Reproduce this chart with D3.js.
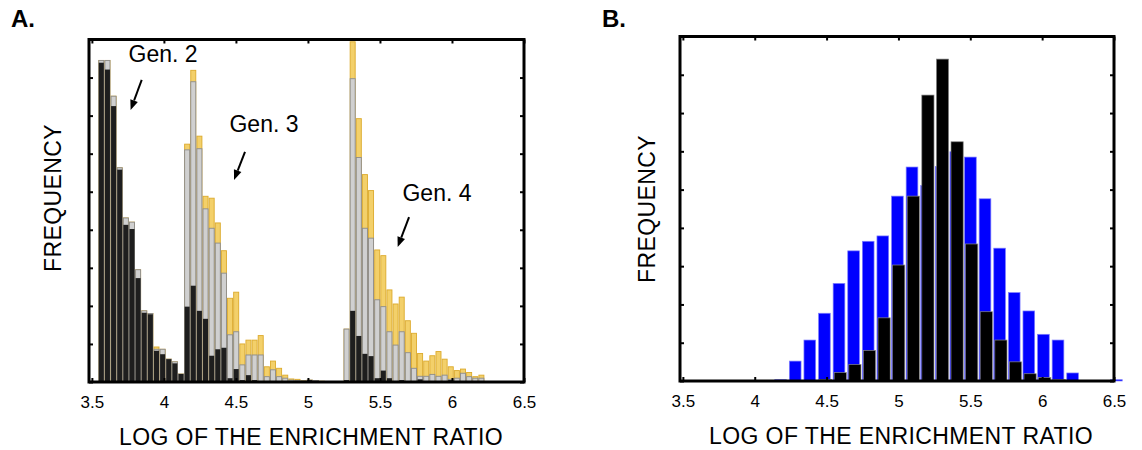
<!DOCTYPE html>
<html>
<head>
<meta charset="utf-8">
<script src="https://cdn.jsdelivr.net/npm/d3@7"></script>
<style>
  body { margin: 0; background: #fff; }
  svg { display: block; font-family: 'Liberation Sans', Arial, sans-serif; }
  .frame { fill: none; stroke: #000; stroke-width: 3; }
  .tick line { stroke: #000; stroke-width: 2; }
  .tick text { font-size: 17px; fill: #000; font-family: 'Liberation Sans', Arial, sans-serif; }
  .domain { display: none; }
  .axisTitle { font-size: 23px; letter-spacing: 0.4px; }
  .panelLabel { font-size: 24px; font-weight: bold; }
  .genLabel { font-size: 23px; }
</style>
</head>
<body>
<svg id="chart" width="1142" height="450"></svg>
<script>
// x ticks shared by both panels
var ticksX = [3.5, 4, 4.5, 5, 5.5, 6, 6.5]
var ticksY = [0, 1, 2, 3, 4, 5, 6, 7, 8, 9]

// Panel A: histogram bins (left edge of first bin, bin width)
var binStartA = 3.5446
var binWidthA = 0.04256
// overlapping layers, back to front
var goldA = [8.45, 8.45, 7.51, 5.63, 4.31, 4.2, 2.95, 1.87, 1.8, 0.92, 0.86, 0.6, 0.53, 0.21,
  6.25, 8.19, 6.46, 4.88, 4.83, 4.18, 3.45, 2.2, 2.36, 1.0, 1.1, 1.1, 1.22, 0.4, 0.55, 0.36, 0.18, 0.08, 0.07, 0.04, 0.05, 0.04, 0.02,
  0, 0, 0,
  1.39, 8.94, 6.92, 5.45, 5.03, 3.47, 3.32, 2.42, 2.05, 2.23, 1.61, 1.28, 0.75, 0.55, 0.69, 0.8, 0.6, 0.4, 0.3, 0.34, 0.25, 0.14, 0.18]
var grayA = [8.45, 8.45, 7.51, 5.63, 4.31, 4.2, 2.95, 1.87, 1.8, 0.86, 0.86, 0.6, 0.53, 0.21,
  6.1, 7.89, 6.13, 4.55, 4.04, 3.65, 2.86, 1.24, 1.32, 0.45, 0.71, 0.71, 0.71, 0.14, 0.32, 0.14, 0.1, 0.05, 0.04, 0.03, 0.05, 0.04, 0,
  0, 0, 0,
  1.39, 7.97, 5.9, 4.04, 3.78, 2.16, 1.98, 1.32, 0.97, 1.32, 0.77, 0.36, 0.15, 0.15, 0.2, 0.15, 0.18, 0.07, 0.1, 0.23, 0.14, 0.1, 0.1]
var blackA = [8.39, 8.21, 7.25, 5.58, 4.13, 4.02, 2.73, 1.82, 1.78, 0.82, 0.73, 0.6, 0.49, 0.21,
  1.98, 2.53, 1.87, 1.66, 0.69, 0.86, 0.9, 0.1, 0.34, 0.05, 0.18, 0.05, 0.02, 0, 0, 0, 0, 0, 0, 0, 0.05, 0, 0,
  0, 0, 0,
  0.05, 1.87, 1.21, 0.74, 0.68, 0.1, 0.3, 0.1, 0, 0.05, 0, 0, 0.07, 0, 0, 0, 0, 0.05, 0, 0, 0, 0, 0]

// Gen labels: text, label position, arrow start, arrow end (data units)
var genLabels = ['Gen. 2', 'Gen. 3', 'Gen. 4']
var genLabelPos = [[3.994, 8.41], [4.695, 6.57], [5.896, 4.76]]
var genArrowFrom = [[3.846, 7.94], [4.563, 6.05], [5.702, 4.33]]
var genArrowTo = [[3.769, 7.15], [4.487, 5.31], [5.623, 3.55]]

// Panel B: bin centers start and step
var binStartB = 4.18
var binWidthB = 0.1016
var blueB = [0.035, 0.52, 1.07, 1.77, 2.55, 3.4, 3.65, 3.79, 4.83, 5.59, 5.11, 5.6, 5.99, 5.85, 4.76, 3.47, 2.31, 1.83, 1.22, 1.07, 0.21, 0, 0, 0.035]
var blackB = [0, 0, 0, 0.04, 0.22, 0.43, 0.8, 1.65, 3.03, 4.83, 7.47, 8.41, 6.25, 3.58, 1.81, 1.07, 0.5, 0.19, 0.09, 0.035, 0, 0, 0, 0]

var svg = d3.select('#chart')

var xA = d3.scaleLinear().domain([3.48, 6.5]).range([89, 524])
var yA = d3.scaleLinear().domain([0, 9]).range([382, 39.5])
var xB = d3.scaleLinear().domain([3.48, 6.5]).range([680, 1114])
var yB = d3.scaleLinear().domain([0, 9]).range([381, 36.5])

// Draw the boxed axes with inward ticks
var _drawFrame = function(x, y) {
  var g = svg.append('g')
  var x0 = x.range()[0], x1 = x.range()[1]
  var y0 = y.range()[0], y1 = y.range()[1]

  g.append('g').attr('transform', 'translate(0 ' + y0 + ')')
    .call(d3.axisBottom(x).tickValues(ticksX).tickSize(-4).tickPadding(14)
      .tickFormat(function(d) { return d }))
  g.append('g').attr('transform', 'translate(0 ' + y1 + ')')
    .call(d3.axisTop(x).tickValues(ticksX).tickSize(-4).tickFormat(''))
  g.append('g').attr('transform', 'translate(' + x0 + ' 0)')
    .call(d3.axisLeft(y).tickValues(ticksY).tickSize(-4).tickFormat(''))
  g.append('g').attr('transform', 'translate(' + x1 + ' 0)')
    .call(d3.axisRight(y).tickValues(ticksY).tickSize(-4).tickFormat(''))

  g.append('rect')
    .attr('class', 'frame')
    .attr('x', x0).attr('y', y1)
    .attr('width', x1 - x0).attr('height', y0 - y1)
}

// Panel A bars
var barWA = xA(binWidthA) - xA(0) - 1.1
var _drawLayerA = function(values, fill, stroke) {
  svg.append('g').selectAll('rect')
    .data(values.map(function(v, i) { return { v: v, i: i } }).filter(function(d) { return d.v > 0 }))
    .enter().append('rect')
    .attr('x', function(d) { return xA(binStartA + d.i * binWidthA) + 0.5 })
    .attr('y', function(d) { return yA(d.v) })
    .attr('width', barWA)
    .attr('height', function(d) { return yA(0) - yA(d.v) })
    .attr('fill', fill)
    .attr('stroke', stroke)
    .attr('stroke-width', stroke ? 0.9 : 0)
}
_drawLayerA(goldA, '#f3d06a', '#dcaa2c')
_drawLayerA(grayA, '#d0d0d0', '#8c8c8c')
_drawLayerA(blackA, '#1e1e1e', null)

// Panel B bars
var _drawLayerB = function(values, fill, stroke, w, dx) {
  svg.append('g').selectAll('rect')
    .data(values.map(function(v, i) { return { v: v, i: i } }).filter(function(d) { return d.v > 0 }))
    .enter().append('rect')
    .attr('x', function(d) { return xB(binStartB + d.i * binWidthB) - w / 2 + dx })
    .attr('y', function(d) { return yB(d.v) })
    .attr('width', w)
    .attr('height', function(d) { return yB(0) - yB(d.v) })
    .attr('fill', fill)
    .attr('stroke', stroke)
    .attr('stroke-width', 0.7)
}
_drawLayerB(blueB, '#0000ff', '#7f7fff', 11.7, 0)
_drawLayerB(blackB, '#000000', '#888888', 12.2, 1.3)

_drawFrame(xA, yA)
_drawFrame(xB, yB)

// Gen labels and arrows
genLabels.forEach(function(label, i) {
  svg.append('text')
    .attr('class', 'genLabel')
    .attr('x', xA(genLabelPos[i][0]))
    .attr('y', yA(genLabelPos[i][1]))
    .attr('text-anchor', 'middle')
    .text(label)

  var x1 = xA(genArrowFrom[i][0]), y1 = yA(genArrowFrom[i][1])
  var x2 = xA(genArrowTo[i][0]), y2 = yA(genArrowTo[i][1])
  var ang = Math.atan2(y2 - y1, x2 - x1)
  var headLen = 10, headW = 4
  var bx = x2 - headLen * Math.cos(ang), by = y2 - headLen * Math.sin(ang)
  svg.append('path')
    .attr('d', d3.line()([[x1, y1], [bx, by]]))
    .attr('stroke', '#000').attr('stroke-width', 2).attr('fill', 'none')
  svg.append('path')
    .attr('d', d3.line()([
      [x2, y2],
      [bx + headW * Math.sin(ang), by - headW * Math.cos(ang)],
      [bx - headW * Math.sin(ang), by + headW * Math.cos(ang)]
    ]) + 'Z')
    .attr('fill', '#000')
})

// Panel and axis titles
var _drawText = function(label, x, y, angle, cls) {
  return svg.append('g')
    .attr('transform', 'translate(' + x + ' ' + y + ')')
    .append('text')
      .attr('class', cls)
      .attr('transform', 'rotate(' + angle + ')')
      .attr('text-anchor', cls === 'panelLabel' ? 'start' : 'middle')
      .text(label)
}
_drawText('A.', 11, 27, 0, 'panelLabel')
_drawText('B.', 602, 27, 0, 'panelLabel')
_drawText('LOG OF THE ENRICHMENT RATIO', 311, 445, 0, 'axisTitle')
_drawText('LOG OF THE ENRICHMENT RATIO', 901, 444, 0, 'axisTitle')
_drawText('FREQUENCY', 61, 198, -90, 'axisTitle')
_drawText('FREQUENCY', 655, 209, -90, 'axisTitle')
</script>
</body>
</html>
